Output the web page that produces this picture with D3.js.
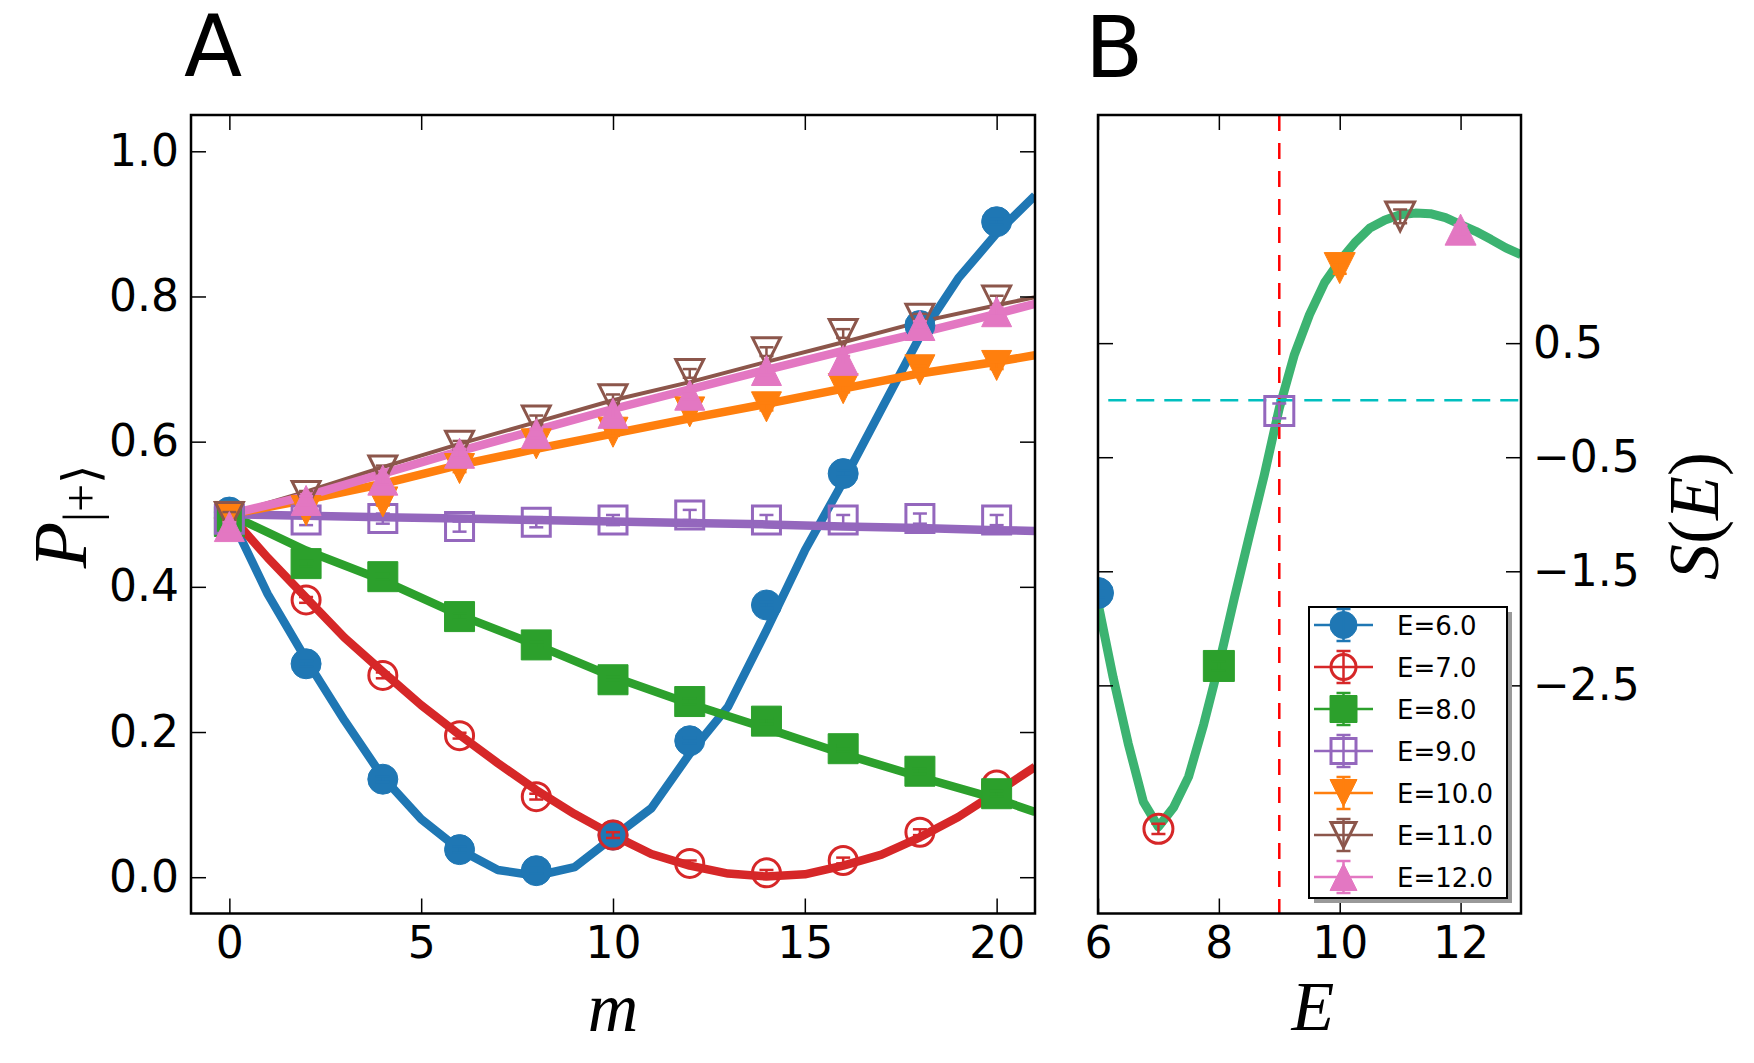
<!DOCTYPE html>
<html>
<head>
<meta charset="utf-8">
<script src="https://cdn.jsdelivr.net/npm/d3@7"></script>
<style>
  body { margin: 0; background: #fff; }
  svg { display: block; }
</style>
</head>
<body>
<div id="chart"></div>
<script>
// ---- data: panel A, P(|+>) vs m ----
const seriesNames = ["E=6.0", "E=7.0", "E=8.0", "E=9.0", "E=10.0", "E=11.0", "E=12.0"];
const seriesColors = ["#1f77b4", "#d62728", "#2ca02c", "#9467bd", "#ff7f0e", "#8c564b", "#e377c2"];
const seriesShapes = ["circle", "circle", "square", "square", "triDown", "triDown", "triUp"];
const seriesOpen = [false, true, false, true, false, true, false];

const mMarks = [0, 2, 4, 6, 8, 10, 12, 14, 16, 18, 20];
const pE6  = [0.503, 0.294, 0.135, 0.038, 0.009, 0.058, 0.188, 0.375, 0.556, 0.760, 0.903];
const pE7  = [0.495, 0.382, 0.278, 0.195, 0.111, 0.058, 0.019, 0.006, 0.023, 0.062, 0.127];
const pE8  = [0.490, 0.432, 0.414, 0.359, 0.320, 0.272, 0.242, 0.215, 0.177, 0.146, 0.115];
const pE9  = [0.493, 0.492, 0.494, 0.483, 0.489, 0.492, 0.499, 0.492, 0.492, 0.494, 0.492];
const pE10 = [0.497, 0.505, 0.517, 0.563, 0.597, 0.613, 0.641, 0.648, 0.673, 0.699, 0.705];
const pE11 = [0.497, 0.526, 0.561, 0.595, 0.630, 0.659, 0.694, 0.724, 0.749, 0.770, 0.795];
const pE12 = [0.483, 0.519, 0.547, 0.584, 0.611, 0.639, 0.664, 0.698, 0.712, 0.760, 0.779];
const errA = [0.004, 0.004, 0.004, 0.007, 0.005, 0.006, 0.006];

// theory curves (blue and red read at every m, the others at even m)
const mFine = [0, 1, 2, 3, 4, 5, 6, 7, 8, 9, 10, 11, 12, 13, 14, 15, 16, 17, 18, 19, 20, 21];
const mCoarse = [0, 2, 4, 6, 8, 10, 12, 14, 16, 18, 20, 21];
const fitE6  = [0.50, 0.39, 0.30, 0.216, 0.138, 0.080, 0.038, 0.010, 0.002, 0.014, 0.055, 0.095, 0.170, 0.235, 0.340, 0.450, 0.545, 0.645, 0.745, 0.825, 0.887, 0.939];
const fitE7  = [0.50, 0.44, 0.385, 0.33, 0.283, 0.237, 0.196, 0.157, 0.120, 0.087, 0.058, 0.032, 0.016, 0.005, 0.001, 0.004, 0.016, 0.031, 0.055, 0.083, 0.117, 0.152];
const fitE8  = [0.50, 0.450, 0.409, 0.361, 0.320, 0.276, 0.239, 0.205, 0.170, 0.138, 0.108, 0.090];
const fitE9  = [0.50, 0.498, 0.496, 0.494, 0.492, 0.490, 0.488, 0.486, 0.483, 0.481, 0.478, 0.477];
const fitE10 = [0.50, 0.520, 0.542, 0.568, 0.590, 0.611, 0.632, 0.652, 0.673, 0.694, 0.710, 0.719];
const fitE11 = [0.50, 0.531, 0.565, 0.597, 0.627, 0.657, 0.682, 0.710, 0.737, 0.765, 0.788, 0.799];
const fitE12 = [0.50, 0.525, 0.556, 0.587, 0.616, 0.645, 0.672, 0.699, 0.725, 0.750, 0.776, 0.790];

// ---- data: panel B, S(E) ----
const eMarks = [6, 7, 8, 9, 10, 11, 12];
const sMarks = [-1.69, -3.758, -2.33, -0.094, 1.158, 1.611, 1.495];
const errB = [0.04, 0.045, 0.04, 0.065, 0.05, 0.06, 0.04];
const eCurve = [6, 6.25, 6.5, 6.75, 7, 7.25, 7.5, 7.75, 8, 8.25, 8.5, 8.75, 9, 9.25, 9.5, 9.75, 10, 10.25, 10.5, 10.75, 11, 11.25, 11.5, 11.75, 12, 12.25, 12.5, 12.75, 13];
const sCurve = [-1.78, -2.43, -3.01, -3.52, -3.74, -3.57, -3.30, -2.84, -2.32, -1.75, -1.20, -0.66, -0.07, 0.40, 0.75, 1.03, 1.22, 1.38, 1.51, 1.58, 1.625, 1.64, 1.635, 1.60, 1.54, 1.48, 1.41, 1.335, 1.275];
const eCritical = 9;
const sZero = 0;
const sZeroStart = 6.17;

const ticksAx = [0, 5, 10, 15, 20];
const ticksAy = [0, 0.2, 0.4, 0.6, 0.8, 1.0];
const ticksBx = [6, 8, 10, 12];
const ticksBy = [0.5, -0.5, -1.5, -2.5];

const pMarks = [pE6, pE7, pE8, pE9, pE10, pE11, pE12];
const fits = [fitE6, fitE7, fitE8, fitE9, fitE10, fitE11, fitE12];
const fitGrid = [mFine, mFine, mCoarse, mCoarse, mCoarse, mCoarse, mCoarse];

const width = 1754, height = 1063;
const sans = "DejaVu Sans";
const serif = "Liberation Serif";

const svg = d3.select("#chart").append("svg")
    .attr("width", width)
    .attr("height", height);

const defs = svg.append("defs");

// scales
const xA = d3.scaleLinear().domain([-1, 21]).range([191, 1035]);
const yA = d3.scaleLinear().domain([-0.05, 1.05]).range([913.5, 115]);
const xB = d3.scaleLinear().domain([6, 13]).range([1098, 1521]);
const yB = d3.scaleLinear().domain([-4.5, 2.5]).range([913.5, 115]);

function markerPath(shape, s) {
  const h = s / 2;
  if (shape == "circle") {
    const p = d3.path(); p.arc(0, 0, h, 0, 2 * Math.PI); p.closePath(); return p.toString();
  }
  if (shape == "square") return `M${-h},${-h}H${h}V${h}H${-h}Z`;
  if (shape == "triUp") return `M0,${-h}L${h},${h}L${-h},${h}Z`;
  return `M0,${h}L${h},${-h}L${-h},${-h}Z`;
}

function drawMarker(g, i, cx, cy, s) {
  const open = seriesOpen[i];
  g.append("path")
    .attr("transform", `translate(${cx},${cy})`)
    .attr("d", markerPath(seriesShapes[i], open ? s - 2 : s))
    .attr("fill", open ? "none" : seriesColors[i])
    .attr("stroke", seriesColors[i])
    .attr("stroke-width", open ? 3 : 1);
}

function drawErr(g, i, cx, yLo, yHi, cap) {
  const c = seriesColors[i];
  g.append("line").attr("x1", cx).attr("x2", cx).attr("y1", yLo).attr("y2", yHi)
    .attr("stroke", c).attr("stroke-width", 2.5);
  [yLo, yHi].forEach(yy => {
    g.append("line").attr("x1", cx - cap / 2).attr("x2", cx + cap / 2).attr("y1", yy).attr("y2", yy)
      .attr("stroke", c).attr("stroke-width", 2.5);
  });
}

function clip(id, x, y) {
  defs.append("clipPath").attr("id", id).append("rect")
    .attr("x", x.range()[0]).attr("y", y.range()[1])
    .attr("width", x.range()[1] - x.range()[0])
    .attr("height", y.range()[0] - y.range()[1]);
}
clip("clipA", xA, yA);
clip("clipB", xB, yB);

function styleAxis(g) {
  g.select(".domain").remove();
  g.selectAll(".tick line").attr("stroke", "#000").attr("stroke-width", 1.5);
  g.selectAll(".tick text").attr("font-family", sans).attr("font-size", 44).attr("fill", "#000");
}

// ---------- Panel A ----------
const gA = svg.append("g");
const plotA = gA.append("g").attr("clip-path", "url(#clipA)");

fits.forEach((f, i) => {
  const line = d3.line().x((d, k) => xA(fitGrid[i][k])).y(d => yA(d));
  plotA.append("path")
    .datum(f)
    .attr("d", line)
    .attr("fill", "none")
    .attr("stroke", seriesColors[i])
    .attr("stroke-width", i == 5 ? 4 : 8.5)
    .attr("stroke-linejoin", "round");
});

const markA = gA.append("g");
pMarks.forEach((vals, i) => {
  vals.forEach((v, k) => {
    drawMarker(markA, i, xA(mMarks[k]), yA(v), 30);
    drawErr(markA, i, xA(mMarks[k]), yA(v - errA[i]), yA(v + errA[i]), 14);
  });
});

gA.append("g").attr("transform", `translate(0,${yA.range()[0]})`)
  .call(d3.axisBottom(xA).tickValues(ticksAx).tickFormat(d3.format("d")).tickSizeInner(-15).tickSizeOuter(0).tickPadding(13))
  .call(styleAxis);
gA.append("g").attr("transform", `translate(0,${yA.range()[1]})`)
  .call(d3.axisTop(xA).tickValues(ticksAx).tickFormat("").tickSizeInner(-15).tickSizeOuter(0))
  .call(styleAxis);
gA.append("g").attr("transform", `translate(${xA.range()[0]},0)`)
  .call(d3.axisLeft(yA).tickValues(ticksAy).tickFormat(d3.format(".1f")).tickSizeInner(-15).tickSizeOuter(0).tickPadding(12))
  .call(styleAxis);
gA.append("g").attr("transform", `translate(${xA.range()[1]},0)`)
  .call(d3.axisRight(yA).tickValues(ticksAy).tickFormat("").tickSizeInner(-15).tickSizeOuter(0))
  .call(styleAxis);

gA.append("rect")
  .attr("x", xA.range()[0]).attr("y", yA.range()[1])
  .attr("width", xA.range()[1] - xA.range()[0]).attr("height", yA.range()[0] - yA.range()[1])
  .attr("fill", "none").attr("stroke", "#000").attr("stroke-width", 2.5);

// ---------- Panel B ----------
const gB = svg.append("g");
const plotB = gB.append("g").attr("clip-path", "url(#clipB)");

plotB.append("path")
  .datum(sCurve)
  .attr("d", d3.line().x((d, k) => xB(eCurve[k])).y(d => yB(d)))
  .attr("fill", "none")
  .attr("stroke", "#3cb371")
  .attr("stroke-width", 9)
  .attr("stroke-linejoin", "round");

plotB.append("line")
  .attr("x1", xB(eCritical)).attr("x2", xB(eCritical))
  .attr("y1", yB.range()[1]).attr("y2", yB.range()[0])
  .attr("stroke", "#ff0000").attr("stroke-width", 2.5).attr("stroke-dasharray", "16,12");

plotB.append("line")
  .attr("x1", xB(sZeroStart)).attr("x2", xB.range()[1])
  .attr("y1", yB(sZero)).attr("y2", yB(sZero))
  .attr("stroke", "#00bfbf").attr("stroke-width", 2.5).attr("stroke-dasharray", "18,10");

eMarks.forEach((e, i) => {
  drawMarker(plotB, i, xB(e), yB(sMarks[i]), 31);
  drawErr(plotB, i, xB(e), yB(sMarks[i] - errB[i]), yB(sMarks[i] + errB[i]), 14);
});

gB.append("g").attr("transform", `translate(0,${yB.range()[0]})`)
  .call(d3.axisBottom(xB).tickValues(ticksBx).tickFormat(d3.format("d")).tickSizeInner(-15).tickSizeOuter(0).tickPadding(13))
  .call(styleAxis);
gB.append("g").attr("transform", `translate(0,${yB.range()[1]})`)
  .call(d3.axisTop(xB).tickValues(ticksBx).tickFormat("").tickSizeInner(-15).tickSizeOuter(0))
  .call(styleAxis);
gB.append("g").attr("transform", `translate(${xB.range()[0]},0)`)
  .call(d3.axisLeft(yB).tickValues(ticksBy).tickFormat("").tickSizeInner(-15).tickSizeOuter(0))
  .call(styleAxis);
gB.append("g").attr("transform", `translate(${xB.range()[1]},0)`)
  .call(d3.axisRight(yB).tickValues(ticksBy).tickFormat(d3.format(".1f")).tickSizeInner(-15).tickSizeOuter(0).tickPadding(12))
  .call(styleAxis);

gB.append("rect")
  .attr("x", xB.range()[0]).attr("y", yB.range()[1])
  .attr("width", xB.range()[1] - xB.range()[0]).attr("height", yB.range()[0] - yB.range()[1])
  .attr("fill", "none").attr("stroke", "#000").attr("stroke-width", 2.5);

// legend
const leg = gB.append("g").attr("transform", "translate(1309,607)");
const legW = 198, legH = 291;
leg.append("rect").attr("x", 5).attr("y", 5).attr("width", legW).attr("height", legH).attr("fill", "#999");
leg.append("rect").attr("width", legW).attr("height", legH).attr("fill", "#fff").attr("stroke", "#000").attr("stroke-width", 2);
seriesNames.forEach((name, i) => {
  const ry = 18 + i * 42;
  leg.append("line").attr("x1", 5).attr("x2", 64).attr("y1", ry).attr("y2", ry)
    .attr("stroke", seriesColors[i]).attr("stroke-width", 2.5);
  drawMarker(leg, i, 34.5, ry, 27);
  drawErr(leg, i, 34.5, ry + 16, ry - 16, 14);
  leg.append("text").attr("x", 88).attr("y", ry + 9.5)
    .attr("font-family", sans).attr("font-size", 26).text(name);
});

// ---------- labels ----------
svg.append("text").attr("x", 184).attr("y", 76)
  .attr("font-family", sans).attr("font-size", 85).text("A");
svg.append("text").attr("x", 1085).attr("y", 77)
  .attr("font-family", sans).attr("font-size", 85).text("B");

svg.append("text").attr("x", 613).attr("y", 1031).attr("text-anchor", "middle")
  .attr("font-family", serif).attr("font-style", "italic").attr("font-size", 70).text("m");
svg.append("text").attr("x", 1313).attr("y", 1030).attr("text-anchor", "middle")
  .attr("font-family", serif).attr("font-style", "italic").attr("font-size", 70).text("E");

const pl = svg.append("text")
  .attr("transform", "translate(86,516) rotate(-90)")
  .attr("text-anchor", "middle")
  .attr("font-family", serif).attr("font-size", 76);
pl.append("tspan").attr("font-style", "italic").text("P");
pl.append("tspan").attr("font-size", 50).attr("dy", 12).text("|+\u27E9");

const sl = svg.append("text")
  .attr("transform", "translate(1718,516) rotate(-90)")
  .attr("text-anchor", "middle")
  .attr("font-family", serif).attr("font-size", 72);
sl.append("tspan").attr("font-style", "italic").text("S");
sl.append("tspan").text("(");
sl.append("tspan").attr("font-style", "italic").text("E");
sl.append("tspan").text(")");
</script>
</body>
</html>
